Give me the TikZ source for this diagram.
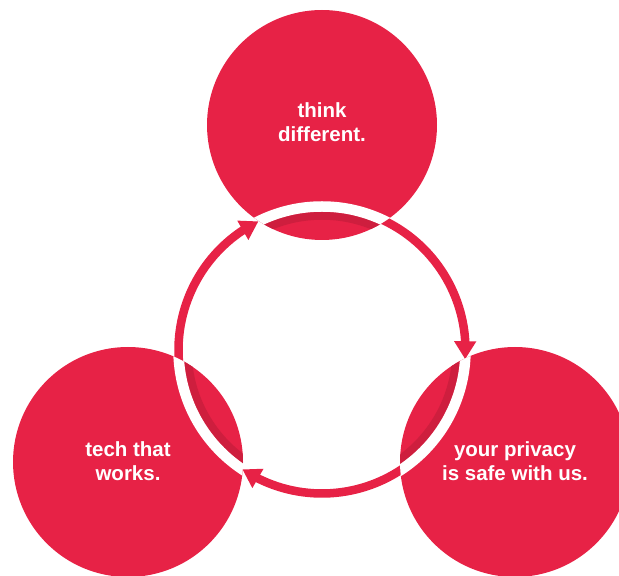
\documentclass[tikz,border=0pt]{standalone}
\usepackage{fontspec}
\setmainfont{Liberation Sans}
\usetikzlibrary{arrows.meta,bending}
\definecolor{brandred}{RGB}{231,34,70}
\definecolor{shadowred}{RGB}{206,30,62}
\begin{document}
\begin{tikzpicture}[x=1pt,y=1pt,
  bubble/.style={circle, fill=brandred, minimum size=230pt, inner sep=0pt},
  bubbletext/.style={text=white, font=\bfseries\fontsize{20.5}{24.5}\selectfont, align=center, inner sep=0pt},
  ringarc/.style={draw=brandred, line width=8.5pt, -{Triangle[length=18pt,width=21pt]}}]
\useasboundingbox (0,0) rectangle (619,576);
\clip (0,0) rectangle (619,576);
\coordinate (C) at (322,226);
% ring arcs with arrows (drawn first, circles cover their starts)
\coordinate (s1) at ([shift={(C)}]70:143.5);
\coordinate (s2) at ([shift={(C)}]-48:143.5);
\coordinate (s3) at ([shift={(C)}]192:143.5);
\draw[ringarc] (s1) arc[start angle=70, end angle=-3.7, radius=143.5];
\draw[ringarc] (s2) arc[start angle=-48, end angle=-123.7, radius=143.5];
\draw[ringarc] (s3) arc[start angle=192, end angle=116.3, radius=143.5];
% circles
\node[bubble] (think) at (322,451) {};
\node[bubble] (works) at (128,114) {};
\node[bubble] (privacy) at (515,114) {};
% white band and shadow inside circles
\begin{scope}
  \clip (think.center) circle[radius=115] (works.center) circle[radius=115] (privacy.center) circle[radius=115];
  \draw[shadowred, line width=8pt] (C) circle[radius=134.25];
  \draw[white, line width=10.5pt] (C) circle[radius=143.5];
\end{scope}
% texts
\node[bubbletext] (t1) at (322,454) {think\\different.};
\node[bubbletext] (t2) at (128,115) {tech that\\works.};
\node[bubbletext] (t3) at (515,115) {your privacy\\is safe with us.};
\end{tikzpicture}
\end{document}
